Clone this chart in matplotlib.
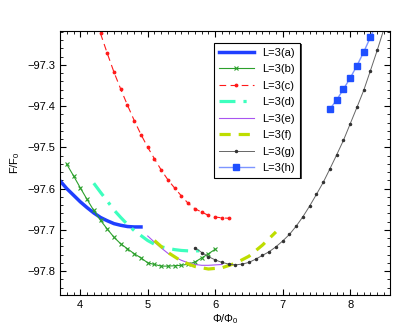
import numpy as np
import matplotlib
matplotlib.use("Agg")
import matplotlib.pyplot as plt
from matplotlib.ticker import MultipleLocator
from matplotlib.patches import Rectangle

plt.rcParams['font.family'] = ['Liberation Sans', 'DejaVu Sans']
plt.rcParams['mathtext.default'] = 'regular'
plt.rcParams['font.size'] = 8

# curve (a)
xa = [3.6, 3.7, 3.8, 3.9, 4.0, 4.1, 4.2, 4.3, 4.4, 4.5, 4.6, 4.7, 4.8, 4.9]
ya = [-97.561, -97.581, -97.600, -97.616, -97.632, -97.646, -97.659, -97.670,
      -97.678, -97.685, -97.689, -97.692, -97.693, -97.693]
# curve (b)
xb = [3.8, 3.9, 4.0, 4.1, 4.2, 4.3, 4.4, 4.5, 4.6, 4.7, 4.8, 4.9, 5.0, 5.1,
      5.2, 5.3, 5.4, 5.5, 5.6, 5.7, 5.8, 5.9, 6.0]
yb = [-97.541, -97.569, -97.598, -97.626, -97.653, -97.677, -97.698, -97.718,
      -97.734, -97.746, -97.758, -97.768, -97.780, -97.784, -97.788, -97.788,
      -97.787, -97.786, -97.783, -97.778, -97.768, -97.758, -97.747]
# curve (c)
xc = [4.3, 4.4, 4.5, 4.6, 4.7, 4.8, 4.9, 5.0, 5.1, 5.2, 5.3, 5.4, 5.5, 5.6,
      5.7, 5.8, 5.9, 6.0, 6.1, 6.2]
yc = [-97.224, -97.272, -97.318, -97.359, -97.398, -97.435, -97.469, -97.500,
      -97.528, -97.555, -97.579, -97.599, -97.618, -97.636, -97.649, -97.657,
      -97.665, -97.669, -97.671, -97.672]
# curve (d)
xd = [4.2, 4.3, 4.4, 4.5, 4.6, 4.7, 4.8, 4.9, 5.0, 5.1, 5.2, 5.3, 5.4, 5.5,
      5.6, 5.7, 5.8]
yd = [-97.587, -97.609, -97.630, -97.652, -97.670, -97.687, -97.702, -97.714,
      -97.726, -97.735, -97.741, -97.745, -97.748, -97.750, -97.751, -97.751,
      -97.751]
# curve (e)
xe = [5.0, 5.1, 5.2, 5.3, 5.4, 5.5, 5.6, 5.7, 5.8, 5.9, 6.0, 6.1]
ye = [-97.715, -97.730, -97.744, -97.757, -97.766, -97.774, -97.780, -97.784,
      -97.786, -97.786, -97.785, -97.784]
# curve (f)
xf = [5.1, 5.3, 5.5, 5.7, 5.9, 6.1, 6.3, 6.5, 6.7, 6.9]
yf = [-97.726, -97.755, -97.776, -97.789, -97.795, -97.792, -97.781, -97.764,
      -97.737, -97.705]
# curve (g)
xg = [5.7, 5.8, 5.9, 6.0, 6.1, 6.2, 6.3, 6.4, 6.5, 6.6, 6.7, 6.8, 6.9, 7.0,
      7.1, 7.2, 7.3, 7.4, 7.5, 7.6, 7.7, 7.8, 7.9, 8.0, 8.1, 8.2, 8.3, 8.4, 8.5]
yg = [-97.743, -97.755, -97.765, -97.773, -97.779, -97.783, -97.785, -97.783,
      -97.779, -97.771, -97.762, -97.753, -97.741, -97.727, -97.711, -97.691,
      -97.668, -97.642, -97.614, -97.585, -97.552, -97.518, -97.483, -97.443,
      -97.403, -97.362, -97.314, -97.265, -97.213]
# curve (h)
xh = [7.7, 7.8, 7.9, 8.0, 8.1, 8.2, 8.3, 8.4]
yh = [-97.407, -97.385, -97.359, -97.332, -97.302, -97.269, -97.233, -97.195]

labels = ['L=3(a)', 'L=3(b)', 'L=3(c)', 'L=3(d)', 'L=3(e)', 'L=3(f)', 'L=3(g)', 'L=3(h)']

fig = plt.figure(figsize=(4.15, 3.33), dpi=100)
ax = fig.add_axes([0.1446, 0.1141, 0.7952, 0.7928])

ax.plot(xa, ya, color='#1f3fff', lw=2.5, label=labels[0])
ax.plot(xb, yb, color='#2ca02c', lw=0.8, marker='x', ms=3, mew=0.8, label=labels[1])
ax.plot(xc, yc, color='#ff1a1a', lw=0.8, ls=(0, (6, 4)), marker='.', ms=3.5, label=labels[2])
ax.plot(xd, yd, color='#3dffbe', lw=2.3, ls=(0, (5, 2.5, 1, 2.5)), label=labels[3])
ax.plot(xe, ye, color='#a855f0', lw=0.8, label=labels[4])
ax.plot(xf, yf, color='#bedd00', lw=2.3, ls=(0, (3.5, 2.5)), label=labels[5])
ax.plot(xg, yg, color='#666666', lw=0.7, marker='.', ms=3, mfc='#333333', mec='#333333',
        label=labels[6])
ax.plot(xh, yh, color='#7d95ff', lw=1.0, marker='s', ms=5, mfc='#1f4fff', mec='#1f4fff',
        label=labels[7])

ax.set_xlim(3.7, 8.59)
ax.set_ylim(-97.858, -97.218)
ax.xaxis.set_major_locator(MultipleLocator(1))
ax.xaxis.set_minor_locator(MultipleLocator(0.1))
ax.yaxis.set_major_locator(MultipleLocator(0.1))
ax.yaxis.set_minor_locator(MultipleLocator(0.02))
ax.yaxis.set_major_formatter(plt.FuncFormatter(lambda v, p: '\u2212%.1f' % abs(v)))
ax.tick_params(which='both', direction='in', top=True, right=True, labelsize=8)
ax.tick_params(which='major', length=4, width=0.8)
ax.tick_params(which='minor', length=2, width=0.6)

ax.set_xlabel(r'$\Phi$/$\Phi_0$', fontsize=8, labelpad=2)
ax.set_ylabel(r'F/F$_0$', fontsize=8, labelpad=4)

leg = ax.legend(loc='upper left', bbox_to_anchor=(0.467, 0.955), borderaxespad=0,
                fancybox=False, shadow=False, framealpha=1, edgecolor='black',
                handlelength=3.1, labelspacing=0.58, fontsize=8, borderpad=0.45)
leg.get_frame().set_linewidth(0.8)
leg.set_zorder(5)

# thin dark shadow at bottom/right of the legend box
fig.canvas.draw()
bb = leg.get_window_extent()
sh = Rectangle((bb.x0 + 1.5, bb.y0 - 1.5), bb.width, bb.height, transform=None,
               facecolor='#444444', edgecolor='none', zorder=4)
ax.add_artist(sh)

fig.savefig('out.png', dpi=100)
